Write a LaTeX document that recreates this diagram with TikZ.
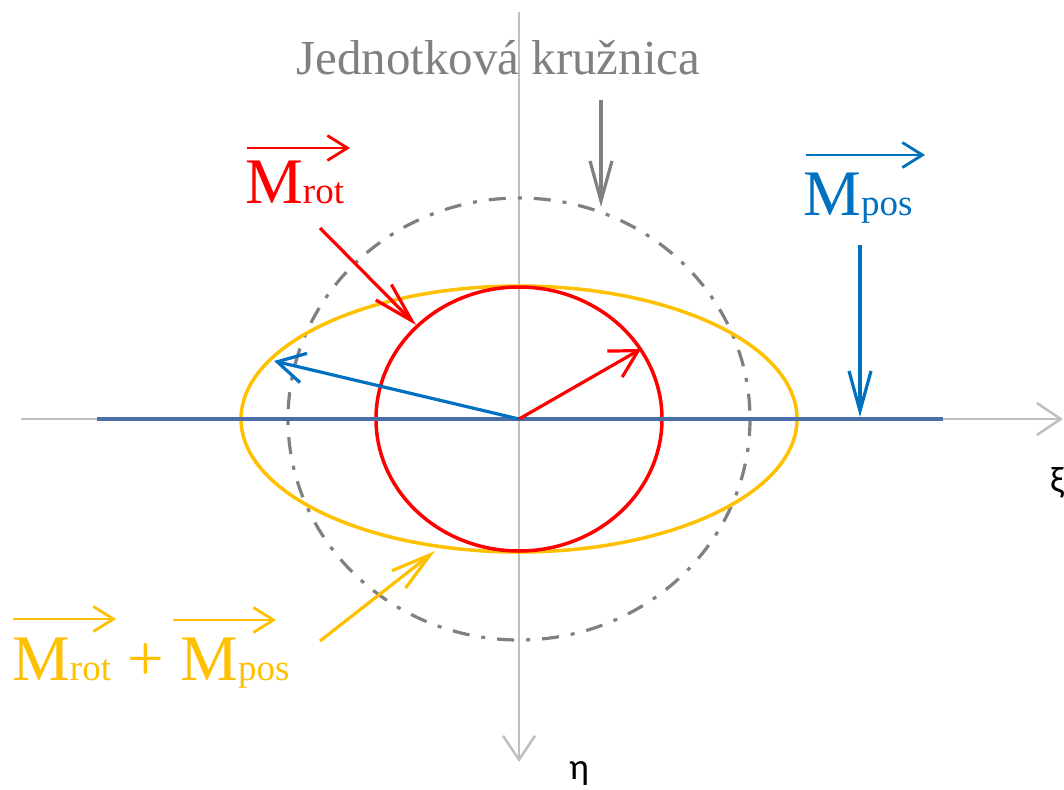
\documentclass[tikz,border=0pt]{standalone}
\usepackage{fontspec}
\setmainfont{Liberation Serif}
\newfontfamily\greekfont{Carlito}
\usetikzlibrary{arrows.meta}
\definecolor{cred}{HTML}{FF0000}
\definecolor{cblue}{HTML}{0070C0}
\definecolor{corange}{HTML}{FFC000}
\definecolor{cgray}{HTML}{808080}
\definecolor{caxis}{HTML}{BFBFBF}
\definecolor{cline}{HTML}{4A6EA8}
\newcommand{\bigM}{\fontsize{65}{70}\selectfont}
\newcommand{\subtx}{\fontsize{37}{40}\selectfont}
\begin{document}
\begin{tikzpicture}[x=1pt,y=-1pt,
  axis/.style={draw=caxis,line width=2.5pt,-{Straight Barb[length=24pt,width=32pt]}},
  pointer/.style={line width=3.2pt,-{Straight Barb[length=40pt,width=22pt]}},
  vecarrow/.style={line width=3.2pt,-{Straight Barb[length=27pt,width=30pt]}},
  overarrow/.style={line width=2.8pt,-{Straight Barb[length=20pt,width=25pt]}},
  lbl/.style={inner sep=0pt,anchor=base west},
  unitcirc/.style={draw=cgray,line width=3.2pt,dash pattern=on 17pt off 12pt on 4pt off 12pt},
]
\useasboundingbox (0,0) rectangle (1064,789);

% axes
\coordinate (O) at (519,419);
\coordinate (xl) at (21,419);
\coordinate (xr) at (1063,419);
\coordinate (yt) at (519,12);
\coordinate (yb) at (519,762);
\draw[axis] (xl) -- (xr);
\draw[axis] (yt) -- (yb);
\node[lbl,font=\greekfont\fontsize{37}{40}\selectfont] (xi) at (1050,492) {ξ};
\node[lbl,font=\greekfont\fontsize{37}{40}\selectfont] (eta) at (569,779) {η};

% curves
\draw[unitcirc] (O) ellipse [x radius=231, y radius=221];
\draw[corange,line width=3.5pt] (O) ellipse [x radius=278, y radius=133];
\draw[cred,line width=3.5pt] (O) ellipse [x radius=143, y radius=132];

% M_pos line
\coordinate (pl) at (97,419);
\coordinate (pr) at (943,419);
\draw[cline,line width=4pt] (pl) -- (pr);

% vectors
\coordinate (bt) at (274,361);
\coordinate (rt) at (641,349);
\draw[vecarrow,cblue] (O) -- (bt);
\draw[vecarrow,cred] (O) -- (rt);

% labels
\node[lbl,cgray,font=\fontsize{49}{54}\selectfont] (unit) at (296,75) {Jednotková kružnica};
\node[lbl,cred] (mrot) at (245,203) {\bigM M{\subtx rot}};
\node[lbl,cblue] (mpos) at (803,215) {\bigM M{\subtx pos}};
\node[lbl,corange] (msum) at (12,680) {\bigM M{\subtx rot} + M{\subtx pos}};

% over-arrows
\coordinate (a1s) at (247,148); \coordinate (a1e) at (350,148);
\coordinate (a2s) at (806,155); \coordinate (a2e) at (925,155);
\coordinate (a3s) at (13,619);  \coordinate (a3e) at (116,619);
\coordinate (a4s) at (173,620); \coordinate (a4e) at (276,620);
\draw[overarrow,cred] (a1s) -- (a1e);
\draw[overarrow,cblue] (a2s) -- (a2e);
\draw[overarrow,corange] (a3s) -- (a3e);
\draw[overarrow,corange] (a4s) -- (a4e);

% pointers
\coordinate (p1s) at (320,228); \coordinate (p1e) at (416,325);
\coordinate (p2s) at (860,245); \coordinate (p2e) at (860,417);
\coordinate (p3s) at (601,100); \coordinate (p3e) at (601,207);
\coordinate (p4s) at (320,641); \coordinate (p4e) at (435,551);
\draw[pointer,cred] (p1s) -- (p1e);
\draw[pointer,cblue] (p2s) -- (p2e);
\draw[pointer,cgray] (p3s) -- (p3e);
\draw[pointer,corange] (p4s) -- (p4e);
\end{tikzpicture}
\end{document}
